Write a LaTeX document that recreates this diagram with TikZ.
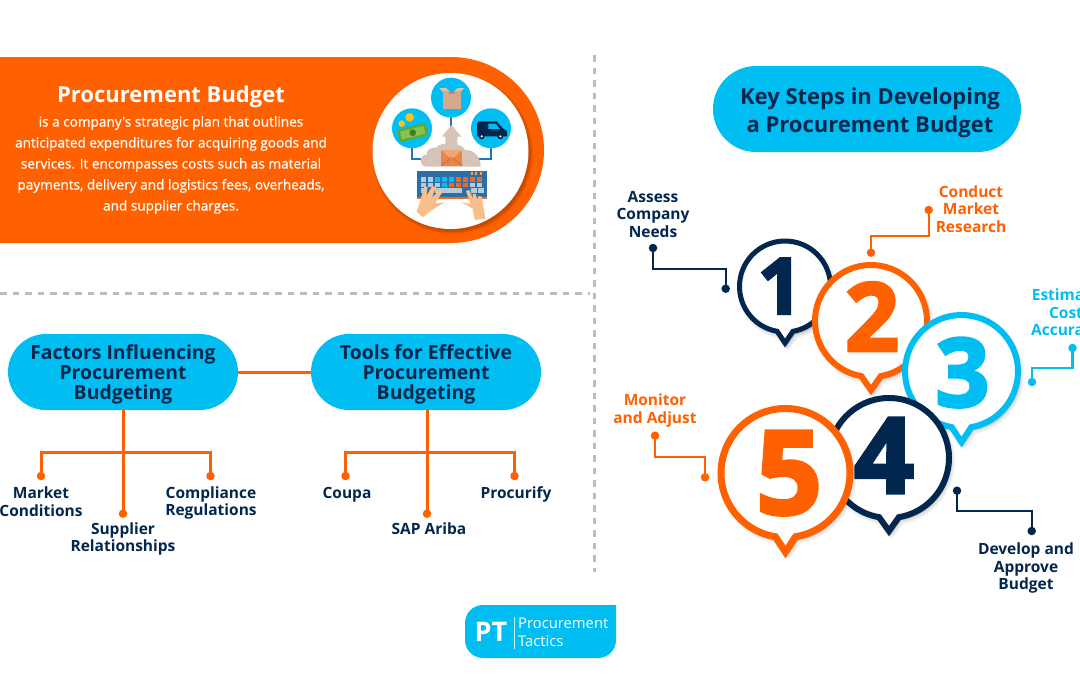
\documentclass[tikz,border=0pt]{standalone}
\usepackage{fontspec}
\setmainfont{Open Sans}
\newfontfamily\digitfont[FakeBold=3]{Open Sans Bold}
\newfontfamily\semifont[FakeBold=.6]{Open Sans}
\usetikzlibrary{calc}
\definecolor{orng}{HTML}{FF6000}
\definecolor{cyn}{HTML}{00BEF2}
\definecolor{navy}{HTML}{02274F}
\definecolor{dashgray}{HTML}{BDBDBD}
\definecolor{linkblue}{HTML}{1F78B4}
\definecolor{taupe}{HTML}{D6C4B8}
\definecolor{skin}{HTML}{F9BE8A}
\definecolor{keyblue}{HTML}{2E6EA6}
\definecolor{keygray}{HTML}{B5CBD8}
\definecolor{boxa}{HTML}{D6A98C}
\definecolor{boxb}{HTML}{E3BFA6}
\definecolor{boxc}{HTML}{B98B70}
\definecolor{mona}{HTML}{5FA834}
\definecolor{monb}{HTML}{86C44E}
\definecolor{monc}{HTML}{3D7F22}
\definecolor{coin}{HTML}{F9C21A}
\definecolor{keyor}{HTML}{F26A21}
\definecolor{keyorl}{HTML}{F5A05F}
\definecolor{enva}{HTML}{E8854A}
\definecolor{envb}{HTML}{F4A46F}
\definecolor{envc}{HTML}{C9652C}
\tikzset{
  txt/.style={font=\bfseries\fontsize{15.5}{17.5}\selectfont,align=center,inner sep=0pt},
  pill/.style={draw=none,fill=cyn,rounded corners=38pt,minimum width=230pt,minimum height=76pt,inner sep=0pt},
  dotn/.style={circle,inner sep=0pt,minimum size=8.5pt},
  conn/.style={line width=2.2pt},
  trunk/.style={line width=3pt,orng},
  dashline/.style={dashgray,line width=3pt,dash pattern=on 6.5pt off 6pt},
  digit/.style={anchor=base,inner sep=0pt},
}
\newcommand\softshadow[1]{%
  \foreach \wd in {1,3,5,7,9}{\path[draw=black,fill=black,opacity=.03,line width=\wd pt,line join=round,xshift=2pt,yshift=-3pt] #1;}}
% bubble: cx cy R lw colour tipY halfangle
\newcommand\bubble[7]{%
  \softshadow{({#1+#3*cos(90+#7)},{#2+#3*sin(90+#7)}) arc[start angle=90+#7,end angle=450-#7,radius=#3] -- (#1,#6) -- cycle}
  \draw[#5,fill=white,line width=#4pt,miter limit=10]
    ({#1+#3*cos(90+#7)},{#2+#3*sin(90+#7)}) arc[start angle=90+#7,end angle=450-#7,radius=#3] -- (#1,#6) -- cycle;}
\begin{document}
\begin{tikzpicture}[x=1pt,y=-1pt]
\useasboundingbox (0,0) rectangle (1080,675);
\clip (0,0) rectangle (1080,675);
\fill[white] (0,0) rectangle (1080,675);

% dashed separators
\draw[dashline] (594,55) -- (594,572);
\draw[dashline] (0,293) -- (590,293);

% orange banner
\fill[orng] (0,57) -- (451,57) arc[start angle=-90,end angle=90,radius=93] -- (0,243) -- cycle;
\foreach \wd in {1,3,5,7}{\fill[black,opacity=.06] (452.5,153.5) circle[radius=77+\wd*.5];}
\fill[white] (450.5,151) circle[radius=78];
\node[font=\bfseries\fontsize{22}{24}\selectfont,text=white,inner sep=0pt] (bt) at (171,97) {Procurement Budget};
\node[font=\semifont\fontsize{13.6}{21}\selectfont,text=white,align=center,inner sep=0pt] (bb) at (171,165) {is a company's strategic plan that outlines\\anticipated expenditures for acquiring goods and\\services. It encompasses costs such as material\\payments, delivery and logistics fees, overheads,\\and supplier charges.};

% icon
\begin{scope}[shift={(360,60)},x=.33333pt,y=-.33333pt]
  \draw[linkblue,line width=2pt] (156,255) -- (156,298) -- (200,298);
  \draw[linkblue,line width=2pt] (393,255) -- (393,298) -- (350,298);
  \draw[linkblue,line width=2pt] (273,170) -- (273,200);
  \fill[cyn] (273,113) circle[radius=60];
  \fill[cyn] (156,205) circle[radius=60];
  \fill[cyn] (393,205) circle[radius=60];
  % parcel
  \fill[boxa] (248,95) rectangle (303,148);
  \fill[boxb] (248,95) -- (238,84) -- (258,84) -- (270,95) -- cycle;
  \fill[boxb] (303,95) -- (313,84) -- (293,84) -- (281,95) -- cycle;
  \fill[boxc] (268,95) rectangle (284,103);
  % money
  \begin{scope}[shift={(158,218)},rotate=14]
    \fill[mona] (-44,-19) rectangle (44,19);
    \fill[monb] (-36,-12) rectangle (36,12);
    \fill[monc] (0,0) circle[radius=10];
  \end{scope}
  \fill[coin] (149,172) circle[radius=13];
  \fill[coin] (125,191) circle[radius=10];
  % van
  \fill[navy] (351,229) -- (351,192) -- (356,184) -- (410,184) -- (428,205) -- (441,213) -- (441,229) -- cycle;
  \fill[cyn] (385,191) -- (407,191) -- (420,207) -- (385,207) -- cycle;
  \fill[navy] (365,229) circle[radius=9];
  \fill[navy] (421,229) circle[radius=9];
  \fill[white] (365,229) circle[radius=3.5];
  \fill[white] (421,229) circle[radius=3.5];
  % cloud
  \fill[taupe] (215,320) -- (200,320) arc[start angle=90,end angle=270,radius=18] .. controls (196,270) and (215,262) .. (230,262) .. controls (240,245) and (305,245) .. (315,270) .. controls (340,268) and (362,290) .. (362,320) -- cycle;
  % arrow
  \fill[taupe] (275,195) -- (304,230) -- (292,230) -- (292,280) -- (256,280) -- (256,230) -- (245,230) -- cycle;
  % envelope
  \fill[enva] (243,270) rectangle (307,317);
  \fill[envb] (243,270) -- (275,298) -- (307,270) -- cycle;
  \draw[envc,line width=.6pt] (243,317) -- (275,292) -- (307,317);
  % keyboard
  \fill[keyblue] (172,332) rectangle (380,412);
  \fill[keyor] (172,412) rectangle (380,418);
  \foreach \xx in {335,349,363}{\fill[keyorl] (\xx-3,337) rectangle (\xx+3,344);}
  \foreach \cc [count=\i from 0] in {keygray,keygray,cyn,cyn,cyn,keyor,keyor,keyor,keyor}{
    \fill[\cc] ({182+\i*21},352) rectangle ({198+\i*21},366);}
  \foreach \cc [count=\i from 0] in {keygray,keygray,keygray,cyn,keyor,keyor,keyor,keygray,keygray}{
    \fill[\cc] ({182+\i*21},369) rectangle ({198+\i*21},382);}
  \fill[keygray] (182,385) rectangle (198,398);
  \fill[keygray] (224,385) rectangle (305,398);
  \fill[keygray] (332,385) rectangle (350,398);
  \fill[keygray] (353,385) rectangle (371,398);
  % hands
  \fill[skin] (170,455) -- (188,472) -- (213,452) -- (254,427) -- (226,430) -- (247,396) -- (238,390) -- (216,413) -- (228,382) -- (217,378) -- (199,408) -- (203,381) -- (193,380) -- (180,425) -- cycle;
  \fill[skin] (376,476) -- (344,480) -- (338,446) -- (304,426) -- (332,432) -- (318,393) -- (328,390) -- (340,418) -- (338,402) -- (347,402) -- (352,420) -- (356,408) -- (365,410) -- cycle;
\end{scope}

% title pill
\node[fill=cyn,rounded corners=43pt,minimum width=308pt,minimum height=86pt,inner sep=0pt] (keysteps) at (867,109) {};
\node[align=center,inner sep=0pt,text=navy,font=\bfseries\fontsize{22}{28}\selectfont] (keytext) at (870,113) {Key Steps in Developing\\a Procurement Budget};

% factors / tools
\node[pill] (factors) at (123,372) {};
\node[pill] (tools) at (426,372) {};
\node[align=center,inner sep=0pt,text=navy,font=\bfseries\fontsize{19.4}{20}\selectfont] (ftext) at (123,374) {Factors Influencing\\Procurement\\Budgeting};
\node[align=center,inner sep=0pt,text=navy,font=\bfseries\fontsize{19.4}{20}\selectfont] (ttext) at (426,374) {Tools for Effective\\Procurement\\Budgeting};
\draw[trunk] (factors) -- (tools);
\foreach \nm/\xx/\yy in {fa/41/476,fb/123/513.7,fc/210.5/476,ta/345.5/476,tb/427/513.7,tc/514.5/476}{
  \node[dotn,fill=orng] (\nm) at (\xx,\yy) {};}
\draw[trunk] (factors.south) -- (fb.center);
\draw[trunk] (fa.center) -- (41,452.5) -- (210.5,452.5) -- (fc.center);
\draw[trunk] (427,410) -- (tb.center);
\draw[trunk] (ta.center) -- (345.5,452.5) -- (514.5,452.5) -- (tc.center);
\node[txt,text=navy] (l1) at (41,501.5) {Market\\Conditions};
\node[txt,text=navy] (l2) at (123,539) {Supplier\\Relationships};
\node[txt,text=navy] (l3) at (211,503) {Compliance\\Regulations};
\node[txt,text=navy] (l4) at (347,494.5) {Coupa};
\node[txt,text=navy] (l5) at (429,528.5) {SAP Ariba};
\node[txt,text=navy] (l6) at (516,494.5) {Procurify};

% bubbles
\bubble{785}{286.5}{45.5}{5}{navy}{343}{10}
\node[digit,text=navy,font=\digitfont\fontsize{78}{78}\selectfont] (n1) at (780,314) {1};
\bubble{871}{321}{56}{6}{orng}{390}{10}
\node[digit,text=orng,font=\digitfont\fontsize{95}{95}\selectfont] (n2) at (872,351) {2};
\bubble{961.5}{371.5}{56.5}{6}{cyn}{442}{10}
\node[digit,text=cyn,font=\digitfont\fontsize{95}{95}\selectfont] (n3) at (962.5,406.5) {3};
\bubble{889}{458}{60}{6}{navy}{531}{9.5}
\node[digit,text=navy,font=\digitfont\fontsize{105}{105}\selectfont] (n4) at (884,493) {4};
\bubble{785.5}{473}{64.5}{7}{orng}{552}{9}
\node[digit,text=orng,font=\digitfont\fontsize{116}{116}\selectfont] (n5) at (789,514) {5};

% callouts
\foreach \nm/\cc/\xx/\yy in {a1/navy/653/248,a2/navy/725.7/288.7,b1/orng/928.7/210,b2/orng/871/252.7,c1/cyn/1072.5/348,c2/cyn/1032/382,d1/navy/957/490.7,d2/navy/1031.7/531,e1/orng/655/435.7,e2/orng/705/477.3}{
  \node[dotn,fill=\cc] (\nm) at (\xx,\yy) {};}
\draw[conn,navy] (a1.center) -- (653,269) -- (725.7,269) -- (a2.center);
\draw[conn,orng] (b2.center) -- (871,236.3) -- (928.7,236.3) -- (b1.center);
\draw[conn,cyn] (c2.center) -- (1032,367.7) -- (1072.5,367.7) -- (c1.center);
\draw[conn,navy] (d1.center) -- (957,511) -- (1031.7,511) -- (d2.center);
\draw[conn,orng] (e1.center) -- (655,456.7) -- (705,456.7) -- (e2.center);

\node[txt,text=navy] (t1) at (653,214.5) {Assess\\Company\\Needs};
\node[txt,text=orng] (t2) at (971,209) {Conduct\\Market\\Research};
\node[txt,text=cyn] (t3) at (1066,314) {Estimate\\Cost\\Accuracy};
\node[txt,text=navy] (t4) at (1026,568) {Develop and\\Approve\\Budget};
\node[txt,text=orng] (t5) at (655,410.5) {Monitor\\and Adjust};

% logo
\fill[cyn] (465,623) arc[start angle=180,end angle=270,radius=18] -- (616,605) -- (616,640) arc[start angle=0,end angle=90,radius=18] -- (483,658) arc[start angle=90,end angle=180,radius=18] -- cycle;
\node[text=white,font=\bfseries\fontsize{27}{27}\selectfont,inner sep=0pt] (pt) at (491,631.5) {PT};
\draw[white,opacity=.8,line width=.7pt] (514,617) -- (514,649);
\node[text=white,anchor=west,font=\fontsize{14.8}{15}\selectfont,inner sep=0pt] (pr) at (518,623) {Procurement};
\node[text=white,anchor=west,font=\fontsize{14.8}{15}\selectfont,inner sep=0pt] (ta2) at (518,641) {Tactics};
\end{tikzpicture}
\end{document}
